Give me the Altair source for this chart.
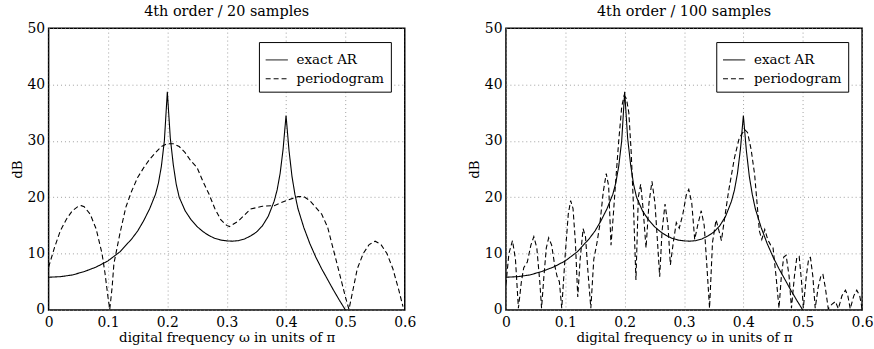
import altair as alt
import pandas as pd

# exact AR(4) spectrum (dB)
ar_x = [0, 0.02, 0.04, 0.06, 0.08, 0.1, 0.12, 0.14, 0.15, 0.16, 0.17, 0.18, 0.185, 0.19, 0.195,
        0.2, 0.205, 0.21, 0.215, 0.22, 0.23, 0.24, 0.25, 0.26, 0.27, 0.28, 0.29, 0.3, 0.31,
        0.32, 0.33, 0.34, 0.35, 0.36, 0.37, 0.38, 0.385, 0.39, 0.395, 0.4, 0.405, 0.41, 0.415,
        0.42, 0.43, 0.44, 0.45, 0.46, 0.47, 0.48, 0.49, 0.5]
ar_y = [5.8, 5.9, 6.2, 6.8, 7.6, 8.7, 10.3, 12.6, 14.0, 15.8, 17.9, 20.5, 22.5, 25.5, 30.0,
        38.7, 30.5, 25.8, 22.3, 20.0, 17.6, 16.0, 14.8, 13.9, 13.2, 12.7, 12.4, 12.25, 12.2,
        12.3, 12.6, 13.1, 13.8, 14.9, 16.6, 19.3, 21.3, 24.2, 28.5, 34.5, 28.3, 23.7, 20.5,
        18.0, 14.6, 11.8, 9.4, 7.3, 5.4, 3.5, 1.7, 0.0]

# periodogram, 20 samples
p20_x = [0, 0.01, 0.02, 0.03, 0.04, 0.05, 0.055, 0.06, 0.07, 0.08, 0.09, 0.095, 0.1, 0.103,
         0.107, 0.11, 0.12, 0.13, 0.14, 0.15, 0.16, 0.17, 0.18, 0.19, 0.2, 0.21, 0.22, 0.23,
         0.24, 0.25, 0.26, 0.27, 0.28, 0.29, 0.3, 0.305, 0.32, 0.34, 0.36, 0.38, 0.4, 0.42,
         0.43, 0.44, 0.46, 0.47, 0.48, 0.49, 0.5, 0.506, 0.515, 0.52, 0.53, 0.54, 0.55, 0.56,
         0.57, 0.58, 0.59, 0.597]
p20_y = [7.6, 11.1, 14.1, 16.1, 17.6, 18.4, 18.5, 18.3, 17.0, 14.4, 10.0, 6.5, 2.3, 0.1,
         4.0, 8.2, 13.5, 18.2, 21.1, 23.5, 25.2, 26.7, 27.9, 29.0, 29.5, 29.5, 29.0, 27.9,
         26.4, 25.3, 22.8, 20.6, 18.0, 16.0, 15.0, 14.8, 15.8, 17.9, 18.4, 18.5, 19.4, 20.1,
         20.1, 19.4, 17.0, 14.7, 10.6, 6.5, 2.3, 0.1, 4.7, 7.3, 10.0, 11.6, 12.2, 11.6,
         10.0, 7.3, 3.5, 0.6]

# periodogram, 100 samples
p100_x = [0, 0.005, 0.011, 0.016, 0.021, 0.026, 0.03, 0.036, 0.042, 0.047, 0.052, 0.057, 0.06,
          0.064, 0.068, 0.072, 0.077, 0.082, 0.086, 0.09, 0.094, 0.1, 0.105, 0.109, 0.113,
          0.117, 0.121, 0.125, 0.13, 0.134, 0.138, 0.143, 0.148, 0.153, 0.158, 0.164, 0.169,
          0.173, 0.177, 0.181, 0.185, 0.19, 0.195, 0.199, 0.203, 0.207, 0.211, 0.215, 0.219,
          0.223, 0.227, 0.231, 0.236, 0.241, 0.246, 0.251, 0.256, 0.259, 0.263, 0.268, 0.273,
          0.277, 0.282, 0.287, 0.292, 0.298, 0.304, 0.308, 0.313, 0.318, 0.323, 0.329, 0.334,
          0.339, 0.343, 0.348, 0.354, 0.359, 0.363, 0.368, 0.375, 0.385, 0.393, 0.402, 0.407,
          0.413, 0.419, 0.423, 0.427, 0.431, 0.436, 0.441, 0.446, 0.45, 0.455, 0.46, 0.464,
          0.468, 0.472, 0.477, 0.481, 0.486, 0.49, 0.494, 0.498, 0.501, 0.506, 0.51, 0.513,
          0.517, 0.521, 0.526, 0.531, 0.534, 0.538, 0.543, 0.549, 0.555, 0.56, 0.566, 0.572,
          0.576, 0.58, 0.586, 0.591, 0.596, 0.6]
p100_y = [4.5, 10.0, 12.3, 9.0, 0.3, 5.0, 7.5, 8.5, 11.5, 13.0, 11.0, 5.0, 0.3,
          6.0, 11.0, 12.8, 11.5, 8.0, 6.0, 5.0, 0.3, 10.0, 17.0, 19.4, 18.0,
          12.0, 2.3, 9.0, 14.4, 13.0, 7.0, 0.3, 9.0, 11.7, 15.0, 21.0, 24.2,
          22.0, 11.5, 17.0, 23.0, 30.0, 36.0, 38.0, 37.5, 35.0, 28.0, 18.0, 5.3,
          20.0, 22.3, 18.0, 11.0, 19.0, 22.8, 19.0, 11.0, 5.9, 14.0, 18.8, 15.0,
          8.0, 12.0, 15.5, 14.5, 17.0, 20.5, 21.4, 19.0, 12.5, 15.0, 17.6, 15.0,
          7.0, 0.3, 12.0, 16.0, 14.0, 12.3, 16.0, 21.0, 27.0, 30.5, 32.0, 31.5,
          28.5, 24.0, 19.0, 14.0, 12.5, 14.3, 12.5, 11.5, 11.0, 6.0, 0.3, 6.0,
          9.4, 9.7, 6.0, 0.3, 6.0, 9.3, 9.5, 5.0, 0.3, 6.0, 9.1, 9.3,
          6.0, 0.3, 4.0, 6.2, 6.3, 4.0, 0.2, 1.0, 1.5, 0.2, 2.5, 3.5,
          2.5, 0.2, 2.5, 3.5, 2.5, 0.2]

series_names = ["exact AR", "periodogram"]
titles = ["4th order / 20 samples", "4th order / 100 samples"]
x_ticks = [0, 0.1, 0.2, 0.3, 0.4, 0.5, 0.6]
y_ticks = [0, 10, 20, 30, 40, 50]

FONT = "DejaVu Serif"


def make_df(px, py):
    a = pd.DataFrame({"w": ar_x, "dB": ar_y, "series": series_names[0]})
    b = pd.DataFrame({"w": px, "dB": py, "series": series_names[1]})
    return pd.concat([a, b], ignore_index=True)


def panel(df, title):
    return alt.Chart(df, title=alt.Title(title, font=FONT, fontSize=14.5, fontWeight="normal",
                                         color="black", offset=2)).mark_line(
        strokeWidth=1.1, clip=True, color="black"
    ).encode(
        x=alt.X("w:Q", scale=alt.Scale(domain=[0, 0.6], nice=False),
                axis=alt.Axis(values=x_ticks, format=".1~f",
                              title="digital frequency \u03c9 in units of \u03c0")),
        y=alt.Y("dB:Q", scale=alt.Scale(domain=[0, 50], nice=False),
                axis=alt.Axis(values=y_ticks, title="dB")),
        strokeDash=alt.StrokeDash(
            "series:N",
            scale=alt.Scale(domain=series_names, range=[[1, 0], [5, 3]]),
            legend=alt.Legend(title=None, orient="top-right", offset=14,
                              fillColor="white", strokeColor="black", padding=6,
                              symbolType="stroke", symbolSize=500, symbolStrokeWidth=1,
                              symbolStrokeColor="black", labelFont=FONT, labelFontSize=13.5,
                              labelColor="black", rowPadding=0, labelOffset=8),
        ),
        detail="series:N",
    ).properties(width=359, height=284)


left = panel(make_df(p20_x, p20_y), titles[0])
right = panel(make_df(p100_x, p100_y), titles[1])

chart = alt.hconcat(left, right, spacing=50).resolve_scale(strokeDash="independent").configure_view(
    stroke="black", strokeWidth=1.5
).configure_axis(
    labelFont=FONT, labelFontSize=14, labelColor="black",
    titleFont=FONT, titleFontSize=13.5, titleFontWeight="normal", titleColor="black",
    grid=True, gridColor="#888888", gridDash=[1, 3], gridWidth=0.8,
    domain=False, ticks=False, labelFlush=False,
).configure_axisX(labelPadding=6, titlePadding=1).configure_axisY(
    labelPadding=4, titlePadding=3
).properties(padding={"left": 9, "top": 1, "right": 0, "bottom": 2}, background="white")

chart.save("out.html", embed_options={"renderer": "svg", "actions": False})
